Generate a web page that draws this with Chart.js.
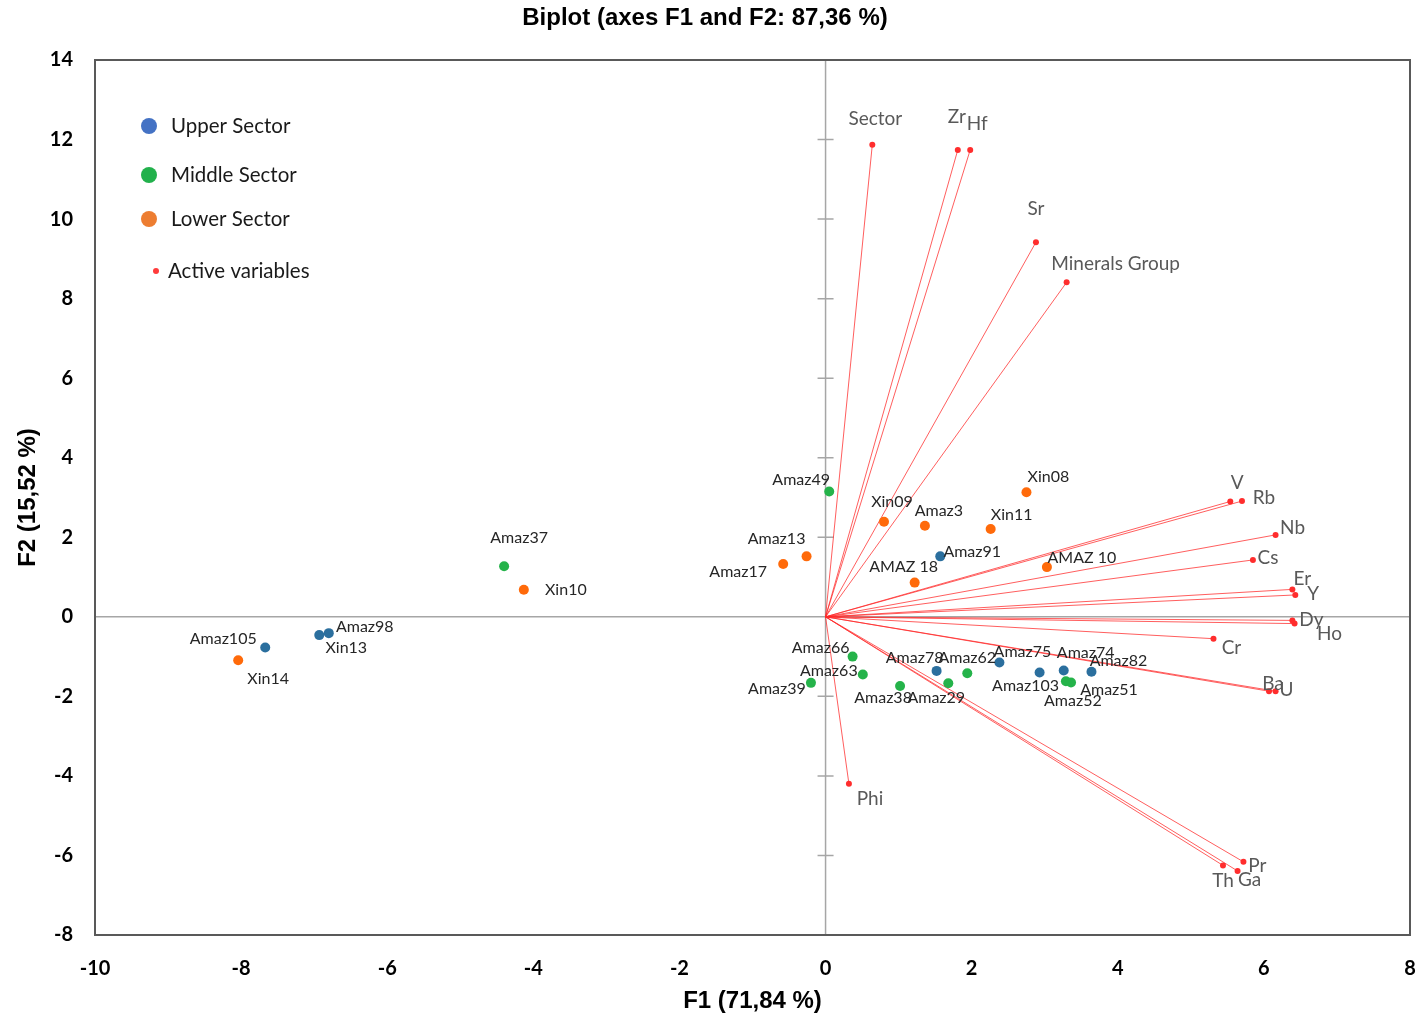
<!DOCTYPE html>
<html>
<head>
<meta charset="utf-8">
<title>Biplot</title>
<script src="https://cdn.jsdelivr.net/npm/chart.js@4.4.1/dist/chart.umd.min.js"></script>
<style>
  body { margin: 0; background: #fff; }
  #chartBox { width: 1420px; height: 1020px; }
</style>
</head>
<body>
<div id="chartBox"><canvas id="biplot" width="1420" height="1020"></canvas></div>
<script>
// observations (F1, F2 scores)
const upperNames = ['Amaz91', 'Amaz78', 'Amaz75', 'Amaz103', 'Amaz74', 'Amaz82', 'Amaz98', 'Xin13', 'Amaz105'];
const upperF1 = [1.57, 1.52, 2.38, 2.93, 3.26, 3.64, -6.80, -6.93, -7.67];
const upperF2 = [1.52, -1.36, -1.15, -1.40, -1.35, -1.38, -0.41, -0.46, -0.77];

const middleNames = ['Amaz49', 'Amaz66', 'Amaz63', 'Amaz39', 'Amaz38', 'Amaz29', 'Amaz62', 'Amaz51', 'Amaz52', 'Amaz37'];
const middleF1 = [0.05, 0.37, 0.51, -0.20, 1.02, 1.68, 1.94, 3.36, 3.29, -4.40];
const middleF2 = [3.15, -1.00, -1.45, -1.66, -1.74, -1.67, -1.42, -1.65, -1.62, 1.27];

const lowerNames = ['Xin09', 'Amaz3', 'Xin11', 'Xin08', 'Amaz13', 'Amaz17', 'AMAZ 18', 'AMAZ 10', 'Xin10', 'Xin14'];
const lowerF1 = [0.80, 1.36, 2.26, 2.75, -0.26, -0.58, 1.22, 3.03, -4.13, -8.04];
const lowerF2 = [2.39, 2.29, 2.21, 3.13, 1.52, 1.33, 0.86, 1.25, 0.68, -1.09];

// active variables (loadings)
const varNames = ['Sector', 'Zr', 'Hf', 'Sr', 'Minerals Group', 'V', 'Rb', 'Nb', 'Cs', 'Er', 'Y', 'Dy', 'Ho', 'Cr', 'Ba', 'U', 'Pr', 'Ga', 'Th', 'Phi'];
const varF1 = [0.64, 1.81, 1.98, 2.88, 3.30, 5.54, 5.70, 6.16, 5.85, 6.39, 6.43, 6.39, 6.42, 5.31, 6.07, 6.16, 5.72, 5.64, 5.44, 0.32];
const varF2 = [11.87, 11.74, 11.74, 9.42, 8.41, 2.90, 2.91, 2.06, 1.43, 0.69, 0.55, -0.09, -0.17, -0.55, -1.87, -1.87, -6.16, -6.39, -6.25, -4.20];

const xTicks = [-10, -8, -6, -4, -2, 0, 2, 4, 6, 8];
const yTicks = [-8, -6, -4, -2, 0, 2, 4, 6, 8, 10, 12, 14];

// label placement (pixel offsets of the text centre from its point)
const labelOffsets = {
  Amaz49: [-28, -12], Xin09: [8, -20], Amaz3: [14, -15], Xin11: [21, -14], Xin08: [22, -15],
  Amaz13: [-30, -18], Amaz17: [-45, 8], Amaz91: [32, -5], 'AMAZ 18': [-11, -16], 'AMAZ 10': [35, -9],
  Amaz66: [-32, -9], Amaz63: [-34, -4], Amaz39: [-34, 6], Amaz38: [-17, 12], Amaz29: [-12, 15],
  Amaz78: [-22, -13], Amaz62: [0, -15], Amaz75: [23, -11], Amaz103: [-14, 13], Amaz74: [22, -18],
  Amaz82: [27, -11], Amaz51: [38, 7], Amaz52: [7, 20], Amaz37: [15, -28], Xin10: [42, 0],
  Amaz98: [36, -6], Xin13: [27, 13], Amaz105: [-42, -9], Xin14: [30, 19]
};
const varOffsets = {
  Sector: [3, -26], Zr: [-1, -33], Hf: [7, -26], Sr: [0, -33], 'Minerals Group': [49, -18],
  V: [7, -19], Rb: [22, -3], Nb: [17, -7], Cs: [15, -2], Er: [10, -11], Y: [18, -1],
  Dy: [19, -1], Ho: [35, 10], Cr: [18, 9], Ba: [4, -7], U: [11, -1], Pr: [14, 4],
  Ga: [12, 9], Th: [0, 15], Phi: [21, 15]
};

const groups = [
  {label: 'Upper Sector', names: upperNames, f1: upperF1, f2: upperF2, color: '#2b6f9e', legend: '#4472c4'},
  {label: 'Middle Sector', names: middleNames, f1: middleF1, f2: middleF2, color: '#25b34a', legend: '#22b14c'},
  {label: 'Lower Sector', names: lowerNames, f1: lowerF1, f2: lowerF2, color: '#ff6a0a', legend: '#ed7d31'}
];

function toPoints(xs, ys) {
  return xs.map((x, i) => ({x: x, y: ys[i]}));
}

const datasets = [];

// one little line per variable, origin to loading
varNames.forEach((name, i) => {
  datasets.push({
    label: name,
    data: [{x: 0, y: 0}, {x: varF1[i], y: varF2[i]}],
    showLine: true,
    borderColor: 'rgba(255, 40, 40, 0.75)',
    borderWidth: 1,
    pointRadius: [0, 3],
    pointBackgroundColor: '#ff2d2d',
    pointBorderWidth: 0,
    order: 2
  });
});

for (const g of groups) {
  datasets.push({
    label: g.label,
    data: toPoints(g.f1, g.f2),
    pointRadius: 5,
    pointBackgroundColor: g.color,
    pointBorderWidth: 0,
    order: 1
  });
}

//Frame, zero axes and the little tick marks on the F1 = 0 line
const framePlugin = {
  id: 'frame',
  beforeDatasetsDraw(chart) {
    const {ctx, chartArea: a, scales: {x, y}} = chart;
    const x0 = x.getPixelForValue(0);
    const y0 = y.getPixelForValue(0);
    ctx.save();
    ctx.strokeStyle = '#a6a6a6';
    ctx.lineWidth = 1.5;
    ctx.beginPath();
    ctx.moveTo(a.left, y0); ctx.lineTo(a.right, y0);
    ctx.moveTo(x0, a.top); ctx.lineTo(x0, a.bottom);
    for (const v of yTicks) {
      if (v === 0 || v === yTicks[0] || v === yTicks[yTicks.length - 1]) continue;
      const py = y.getPixelForValue(v);
      ctx.moveTo(x0 - 8, py); ctx.lineTo(x0 + 8, py);
    }
    ctx.stroke();
    ctx.restore();
  },
  afterDraw(chart) {
    const {ctx, chartArea: a} = chart;
    ctx.save();
    ctx.strokeStyle = '#595959';
    ctx.lineWidth = 2;
    ctx.strokeRect(a.left, a.top, a.right - a.left, a.bottom - a.top);
    ctx.restore();
  }
};

//Point labels
const labelPlugin = {
  id: 'pointLabels',
  afterDatasetsDraw(chart) {
    const {ctx, scales: {x, y}} = chart;
    ctx.save();
    ctx.textAlign = 'center';
    ctx.textBaseline = 'middle';
    // variable names
    ctx.fillStyle = '#595959';
    ctx.font = '19px Lato';
    varNames.forEach((name, i) => {
      const off = varOffsets[name];
      ctx.fillText(name, x.getPixelForValue(varF1[i]) + off[0], y.getPixelForValue(varF2[i]) + off[1]);
    });
    // observation names
    ctx.fillStyle = '#262626';
    ctx.font = '16px Lato';
    for (const g of groups) {
      g.names.forEach((name, i) => {
        const off = labelOffsets[name];
        ctx.fillText(name, x.getPixelForValue(g.f1[i]) + off[0], y.getPixelForValue(g.f2[i]) + off[1]);
      });
    }
    ctx.restore();
  }
};

//Legend sits inside the plot, top left
const legendPlugin = {
  id: 'insideLegend',
  afterDraw(chart) {
    const {ctx, chartArea: a} = chart;
    ctx.save();
    ctx.textBaseline = 'middle';
    ctx.textAlign = 'left';
    ctx.font = '20.5px Lato';
    const rows = [66, 115, 159];
    groups.forEach((g, i) => {
      ctx.fillStyle = g.legend;
      ctx.beginPath();
      ctx.arc(a.left + 54, a.top + rows[i], 8, 0, Math.PI * 2);
      ctx.fill();
      ctx.fillStyle = '#1a1a1a';
      ctx.fillText(g.label, a.left + 76, a.top + rows[i]);
    });
    ctx.fillStyle = '#ff3b3b';
    ctx.beginPath();
    ctx.arc(a.left + 61, a.top + 211, 3, 0, Math.PI * 2);
    ctx.fill();
    ctx.fillStyle = '#1a1a1a';
    ctx.fillText('Active variables', a.left + 73, a.top + 211);
    ctx.restore();
  }
};

const config = {
  type: 'scatter',
  data: {datasets: datasets},
  options: {
    responsive: false,
    animation: false,
    layout: {padding: {left: 0, right: 10, top: 0, bottom: 0}},
    plugins: {
      legend: {display: false},
      tooltip: {enabled: false},
      title: {
        display: true,
        text: 'Biplot (axes F1 and F2: 87,36 %)',
        color: '#000',
        font: {family: 'Liberation Sans', size: 24, weight: 'bold', lineHeight: 1.2},
        padding: {top: 4, bottom: 27.2}
      }
    },
    scales: {
      x: {
        type: 'linear',
        min: xTicks[0],
        max: xTicks[xTicks.length - 1],
        afterBuildTicks: (scale) => { scale.ticks = xTicks.map(v => ({value: v})); },
        afterFit: (scale) => {
          scale.height = 85;
          scale.paddingLeft = 0;
          scale.paddingRight = 0;
        },
        grid: {display: false, drawTicks: false},
        border: {display: false},
        ticks: {color: '#000', padding: 22, font: {family: 'Lato', size: 20, weight: 'bold'}},
        title: {
          display: true,
          text: 'F1 (71,84 %)',
          color: '#000',
          font: {family: 'Liberation Sans', size: 24, weight: 'bold', lineHeight: 1.2},
          padding: {top: 0, bottom: 4.6}
        }
      },
      y: {
        type: 'linear',
        min: yTicks[0],
        max: yTicks[yTicks.length - 1],
        afterBuildTicks: (scale) => { scale.ticks = yTicks.map(v => ({value: v})); },
        afterFit: (scale) => {
          scale.width = 95;
          scale.paddingTop = 0;
          scale.paddingBottom = 0;
        },
        grid: {display: false, drawTicks: false},
        border: {display: false},
        ticks: {color: '#000', padding: 22, font: {family: 'Lato', size: 20, weight: 'bold'}},
        title: {
          display: true,
          text: 'F2 (15,52 %)',
          color: '#000',
          font: {family: 'Liberation Sans', size: 24, weight: 'bold', lineHeight: 1.2},
          padding: {top: 13.6, bottom: 0}
        }
      }
    }
  },
  plugins: [framePlugin, labelPlugin, legendPlugin]
};

new Chart(document.getElementById('biplot'), config);
</script>
</body>
</html>
